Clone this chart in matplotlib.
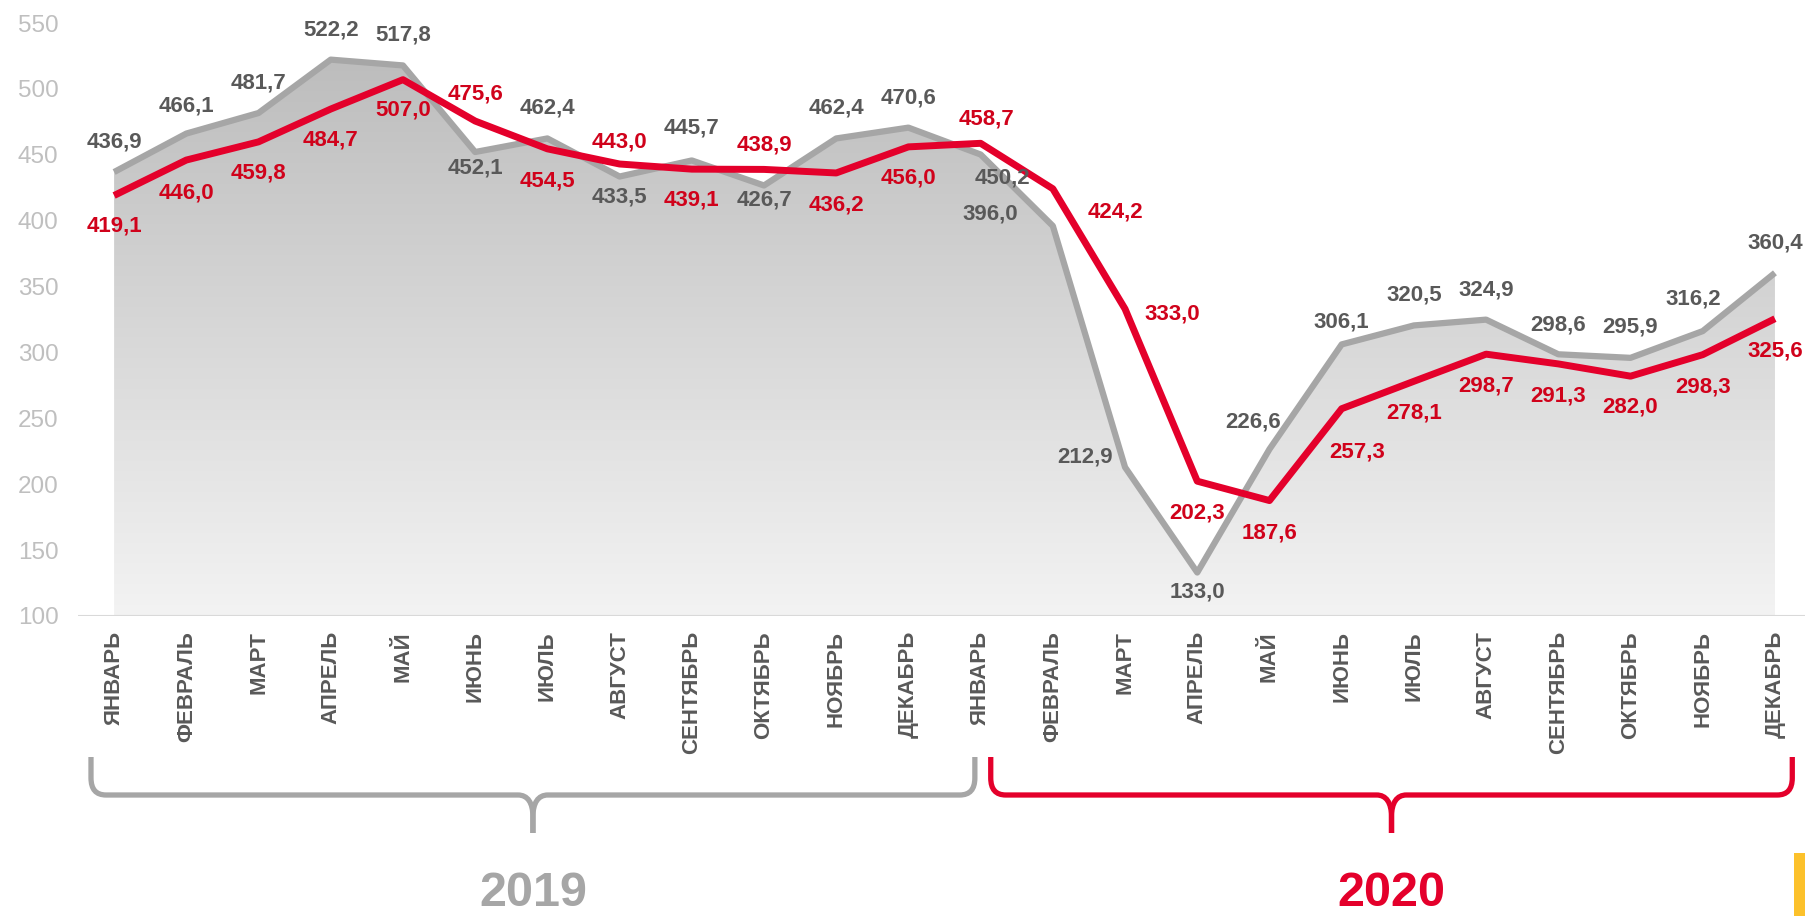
import numpy as np
import matplotlib
matplotlib.use("Agg")
import matplotlib.pyplot as plt
from matplotlib.path import Path
from matplotlib.patches import PathPatch, Polygon, Rectangle
from matplotlib.colors import LinearSegmentedColormap

plt.rcParams['font.family'] = ['Liberation Sans', 'DejaVu Sans']

# data
months = ['ЯНВАРЬ', 'ФЕВРАЛЬ', 'МАРТ', 'АПРЕЛЬ', 'МАЙ', 'ИЮНЬ', 'ИЮЛЬ',
          'АВГУСТ', 'СЕНТЯБРЬ', 'ОКТЯБРЬ', 'НОЯБРЬ', 'ДЕКАБРЬ']
years = ['2019', '2020']
gray_vals = [436.9, 466.1, 481.7, 522.2, 517.8, 452.1, 462.4, 433.5, 445.7, 426.7, 462.4, 470.6,
             450.2, 396.0, 212.9, 133.0, 226.6, 306.1, 320.5, 324.9, 298.6, 295.9, 316.2, 360.4]
red_vals = [419.1, 446.0, 459.8, 484.7, 507.0, 475.6, 454.5, 443.0, 439.1, 438.9, 436.2, 456.0,
            458.7, 424.2, 333.0, 202.3, 187.6, 257.3, 278.1, 298.7, 291.3, 282.0, 298.3, 325.6]

# label offsets in pixels (dx, dy), dy positive = down
gray_off = [(0, -30), (0, -28), (0, -30), (0, -30), (0, -30), (0, 16), (0, -30), (0, 20),
            (0, -32), (0, 15), (0, -30), (0, -30), (22, 23), (-63, -12), (-40, -10), (0, 19),
            (-16, -27), (0, -22), (0, -30), (0, -30), (0, -29), (0, -31), (-9, -32), (0, -30)]
red_off = [(0, 31), (0, 33), (0, 31), (0, 31), (0, 30), (0, -27), (0, 32), (0, -22),
           (0, 31), (0, -24), (0, 32), (0, 31), (6, -24), (63, 23), (47, 5), (0, 32),
           (0, 32), (15, 43), (0, 32), (0, 32), (0, 32), (0, 31), (0, 32), (0, 32)]

GRAY = '#a6a6a6'
RED = '#e4002b'

W, H = 1806, 916
fig = plt.figure(figsize=(W / 100, H / 100), dpi=100)
ax = fig.add_axes([78 / W, (H - 616) / H, 1 - 78 / W, (616 - 23) / H])

x = np.arange(len(gray_vals))

# gradient area under gray line
poly = Polygon([(0, 100)] + list(zip(x, gray_vals)) + [(x[-1], 100)],
               facecolor='none', edgecolor='none')
ax.add_patch(poly)
cmap = LinearSegmentedColormap.from_list('g', ['#f3f3f3', '#bcbcbc'])
grad = np.linspace(0, 1, 256).reshape(-1, 1)
im = ax.imshow(grad, origin='lower', extent=[0, x[-1], 100, 530], cmap=cmap,
               aspect='auto', zorder=1)
im.set_clip_path(poly)

ax.plot(x, gray_vals, color=GRAY, lw=4.5, zorder=2, solid_capstyle='butt')
ax.plot(x, red_vals, color=RED, lw=5, zorder=3, solid_capstyle='butt')
ax.axhline(100, color='#d9d9d9', lw=1.5, zorder=1)

def fmt(v):
    return f"{v:.1f}".replace('.', ',')

for i, v in enumerate(gray_vals):
    dx, dy = gray_off[i]
    ax.annotate(fmt(v), (i, v), xytext=(dx * 0.72, -dy * 0.72), textcoords='offset points',
                ha='center', va='center', fontsize=16, fontweight='bold', color='#595959',
                zorder=5, annotation_clip=False)
for i, v in enumerate(red_vals):
    dx, dy = red_off[i]
    ax.annotate(fmt(v), (i, v), xytext=(dx * 0.72, -dy * 0.72), textcoords='offset points',
                ha='center', va='center', fontsize=16, fontweight='bold', color='#d0021b',
                zorder=5, annotation_clip=False)

ax.set_xlim(-0.5, 23.43)
ax.set_ylim(100, 550)
ax.set_yticks(range(100, 551, 50))
ax.tick_params(axis='y', length=0, pad=14, labelsize=17.5, labelcolor='#bfbfbf')
ax.set_xticks(x)
ax.set_xticklabels(months * 2, rotation=90, fontsize=16, fontweight='bold', color='#595959')
ax.tick_params(axis='x', length=0, pad=10.8)
for s in ax.spines.values():
    s.set_visible(False)

# brackets and year labels in pixel overlay
ov = fig.add_axes([0, 0, 1, 1])
ov.set_xlim(0, W)
ov.set_ylim(H, 0)
ov.axis('off')
ov.patch.set_visible(False)

brace_spans = [(-0.32, 11.92), (12.14, 23.24)]
brace_colors = [GRAY, RED]

def to_px(xd):
    return ax.transData.transform((xd, 100))[0]

yt, yh, yb = 757, 795, 833
rx, ry, tx, ty = 15, 17, 15, 22
for (a, b), col, yr in zip(brace_spans, brace_colors, years):
    xl, xr = to_px(a), to_px(b)
    xm = (xl + xr) / 2
    for xe, sgn in ((xl, 1), (xr, -1)):
        verts = [(xe, yt), (xe, yh - ry), (xe, yh), (xe + sgn * rx, yh),
                 (xm - sgn * tx, yh), (xm - sgn * tx * 0.35, yh), (xm, yh + ty * 0.35),
                 (xm, yh + ty), (xm, yb)]
        codes = [Path.MOVETO, Path.LINETO, Path.CURVE3, Path.CURVE3, Path.LINETO,
                 Path.CURVE4, Path.CURVE4, Path.CURVE4, Path.LINETO]
        ov.add_patch(PathPatch(Path(verts, codes), facecolor='none', edgecolor=col,
                               lw=3.8, capstyle='butt'))
    ov.text(xm, 893, yr, ha='center', va='center', fontsize=35, fontweight='bold', color=col)

ov.add_patch(Rectangle((1794, 853), 12, 63, color='#fcc12b', lw=0))

fig.savefig('out.png', dpi=100)
